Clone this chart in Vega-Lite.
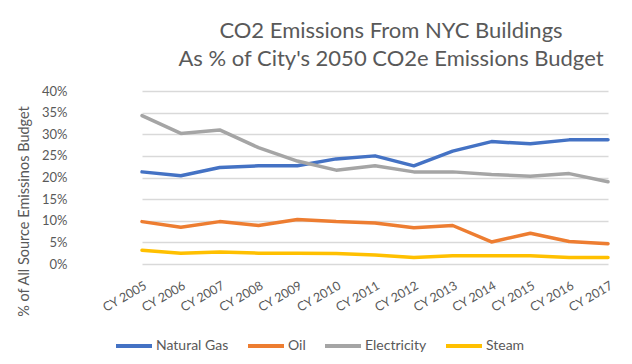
{
  "$schema": "https://vega.github.io/schema/vega-lite/v6.json",
  "width": 546,
  "height": 173,
  "autosize": {"type": "none"},
  "padding": {"left": 83, "top": 91, "right": 3, "bottom": 100},
  "background": "white",
  "title": {
    "text": ["CO2 Emissions From NYC Buildings", "As % of City's 2050 CO2e Emissions Budget"],
    "anchor": "middle",
    "frame": "group",
    "dx": 35,
    "dy": 23,
    "fontSize": 22,
    "lineHeight": 28,
    "font": "Lato",
    "fontWeight": "normal",
    "color": "#595959",
    "baseline": "alphabetic",
    "offset": 20
  },
  "config": {
    "view": {"stroke": null},
    "font": "Lato"
  },
  "data": {
    "values": [
      {"year": "CY 2005", "source": "Natural Gas", "pct": 21.3},
      {"year": "CY 2006", "source": "Natural Gas", "pct": 20.4},
      {"year": "CY 2007", "source": "Natural Gas", "pct": 22.3},
      {"year": "CY 2008", "source": "Natural Gas", "pct": 22.7},
      {"year": "CY 2009", "source": "Natural Gas", "pct": 22.7},
      {"year": "CY 2010", "source": "Natural Gas", "pct": 24.3},
      {"year": "CY 2011", "source": "Natural Gas", "pct": 25.0},
      {"year": "CY 2012", "source": "Natural Gas", "pct": 22.7},
      {"year": "CY 2013", "source": "Natural Gas", "pct": 26.1},
      {"year": "CY 2014", "source": "Natural Gas", "pct": 28.3},
      {"year": "CY 2015", "source": "Natural Gas", "pct": 27.8},
      {"year": "CY 2016", "source": "Natural Gas", "pct": 28.7},
      {"year": "CY 2017", "source": "Natural Gas", "pct": 28.7},
      {"year": "CY 2005", "source": "Oil", "pct": 9.8},
      {"year": "CY 2006", "source": "Oil", "pct": 8.5},
      {"year": "CY 2007", "source": "Oil", "pct": 9.8},
      {"year": "CY 2008", "source": "Oil", "pct": 8.9},
      {"year": "CY 2009", "source": "Oil", "pct": 10.3},
      {"year": "CY 2010", "source": "Oil", "pct": 9.8},
      {"year": "CY 2011", "source": "Oil", "pct": 9.5},
      {"year": "CY 2012", "source": "Oil", "pct": 8.4},
      {"year": "CY 2013", "source": "Oil", "pct": 8.9},
      {"year": "CY 2014", "source": "Oil", "pct": 5.1},
      {"year": "CY 2015", "source": "Oil", "pct": 7.1},
      {"year": "CY 2016", "source": "Oil", "pct": 5.2},
      {"year": "CY 2017", "source": "Oil", "pct": 4.7},
      {"year": "CY 2005", "source": "Electricity", "pct": 34.3},
      {"year": "CY 2006", "source": "Electricity", "pct": 30.2},
      {"year": "CY 2007", "source": "Electricity", "pct": 31.0},
      {"year": "CY 2008", "source": "Electricity", "pct": 26.9},
      {"year": "CY 2009", "source": "Electricity", "pct": 23.8},
      {"year": "CY 2010", "source": "Electricity", "pct": 21.7},
      {"year": "CY 2011", "source": "Electricity", "pct": 22.7},
      {"year": "CY 2012", "source": "Electricity", "pct": 21.3},
      {"year": "CY 2013", "source": "Electricity", "pct": 21.3},
      {"year": "CY 2014", "source": "Electricity", "pct": 20.7},
      {"year": "CY 2015", "source": "Electricity", "pct": 20.3},
      {"year": "CY 2016", "source": "Electricity", "pct": 20.9},
      {"year": "CY 2017", "source": "Electricity", "pct": 19.0},
      {"year": "CY 2005", "source": "Steam", "pct": 3.2},
      {"year": "CY 2006", "source": "Steam", "pct": 2.5},
      {"year": "CY 2007", "source": "Steam", "pct": 2.8},
      {"year": "CY 2008", "source": "Steam", "pct": 2.5},
      {"year": "CY 2009", "source": "Steam", "pct": 2.5},
      {"year": "CY 2010", "source": "Steam", "pct": 2.4},
      {"year": "CY 2011", "source": "Steam", "pct": 2.1},
      {"year": "CY 2012", "source": "Steam", "pct": 1.5},
      {"year": "CY 2013", "source": "Steam", "pct": 1.9},
      {"year": "CY 2014", "source": "Steam", "pct": 1.9},
      {"year": "CY 2015", "source": "Steam", "pct": 1.9},
      {"year": "CY 2016", "source": "Steam", "pct": 1.5},
      {"year": "CY 2017", "source": "Steam", "pct": 1.5}
    ]
  },
  "mark": {"type": "line", "strokeWidth": 3.5, "strokeCap": "round", "strokeJoin": "round"},
  "encoding": {
    "x": {
      "field": "year",
      "type": "ordinal",
      "scale": {"type": "point", "range": [59, 525], "padding": 0},
      "axis": {
        "title": null,
        "domain": false,
        "ticks": false,
        "grid": false,
        "labelAngle": -30,
        "labelAlign": "right",
        "labelBaseline": "top",
        "labelPadding": 15,
        "labelFontSize": 12.5,
        "labelColor": "#595959",
        "labelFont": "Lato",
        "labelOverlap": false,
        "labelBound": false
      }
    },
    "y": {
      "field": "pct",
      "type": "quantitative",
      "scale": {"domain": [0, 40], "nice": false},
      "axis": {
        "values": [0, 5, 10, 15, 20, 25, 30, 35, 40],
        "labelExpr": "datum.value + '%'",
        "domain": false,
        "ticks": false,
        "gridColor": "#D9D9D9",
        "gridWidth": 1.3,
        "labelPadding": 16,
        "labelFontSize": 13,
        "labelColor": "#595959",
        "labelFont": "Lato",
        "title": "% of All Source Emissinos Budget",
        "titleFont": "Lato",
        "titleFontSize": 14.5,
        "titleFontWeight": "normal",
        "titleColor": "#595959",
        "titleAngle": -90,
        "titleAlign": "center",
        "titleBaseline": "middle",
        "titleX": -59,
        "titleY": 120
      }
    },
    "color": {
      "field": "source",
      "type": "nominal",
      "scale": {
        "domain": ["Natural Gas", "Oil", "Electricity", "Steam"],
        "range": ["#4472C4", "#ED7D31", "#A5A5A5", "#FFC000"]
      },
      "legend": {
        "title": null,
        "orient": "none",
        "direction": "horizontal",
        "legendX": 31,
        "legendY": 235,
        "symbolType": "stroke",
        "symbolSize": 1296,
        "symbolStrokeWidth": 4,
        "labelOffset": 2,
        "columnPadding": 11,
        "labelFontSize": 14,
        "labelColor": "#595959",
        "labelFont": "Lato"
      }
    }
  }
}
